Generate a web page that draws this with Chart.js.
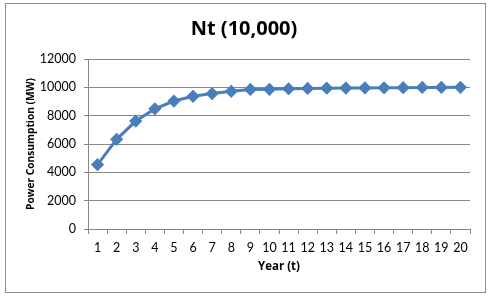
<!DOCTYPE html>
<html>
<head>
<meta charset="utf-8">
<script src="https://cdn.jsdelivr.net/npm/chart.js@4"></script>
<style>
  html, body { margin:0; padding:0; background:#fff; }
  #wrap { position:relative; width:488px; height:298px; }
  #frame { position:absolute; left:5px; top:3px; width:479px; height:288px; border:1px solid #8c8c8c; pointer-events:none; }
</style>
</head>
<body>
<div id="wrap">
  <canvas id="mychart" width="488" height="298"></canvas>
  <div id="frame"></div>
</div>
<script>
const years = ['1','2','3','4','5','6','7','8','9','10','11','12','13','14','15','16','17','18','19','20'];
const power = [4540, 6330, 7620, 8480, 9035, 9365, 9560, 9720, 9850, 9860, 9900, 9920, 9940, 9950, 9960, 9970, 9975, 9990, 9995, 10000];
const chartTitle = 'Nt (10,000)';
const xTitle = 'Year (t)';
const yTitle = 'Power Consumption (MW)';

const fam = 'Lato, "Open Sans", sans-serif';
const boldFam = '"Open Sans", sans-serif';
const lineColor = '#4A7EBB';
const gridColor = '#878787';

const ctx = document.getElementById('mychart').getContext('2d');

const lineChart = new Chart(ctx,
{
    type : 'line',
    data :
    {
        labels : years,
        datasets :
        [{
            data : power,
            borderColor : lineColor,
            backgroundColor : lineColor,
            borderWidth : 3,
            pointStyle : 'rectRot',
            pointRadius : 4.5,
            pointHoverRadius : 4.5,
            tension : 0,
        }]
    },
    options :
    {
        responsive : false,
        animation : false,
        layout :
        {
            padding : { left:18, right:18, top:0, bottom:0 }
        },
        plugins :
        {
            legend : { display:false },
            tooltip : { enabled:false },
            title :
            {
                display : true,
                text : chartTitle,
                color : '#000',
                font : { family:boldFam, size:20, weight:'bold', lineHeight:1.2 },
                padding : { top:17, bottom:18 },
            },
        },
        scales :
        {
            x :
            {
                type : 'category',
                offset : true,
                afterFit : (scale) => { scale.height = 69; },
                grid :
                {
                    offset : true,
                    drawOnChartArea : false,
                    drawTicks : true,
                    tickLength : 5,
                    color : gridColor,
                },
                border : { color:gridColor, width:1 },
                ticks :
                {
                    color : '#000',
                    padding : 6,
                    maxRotation : 0,
                    autoSkip : false,
                    font : { family:fam, size:12.5 },
                },
                title :
                {
                    display : true,
                    text : xTitle,
                    color : '#000',
                    font : { family:boldFam, size:11.5, weight:'bold', lineHeight:1.2 },
                    padding : { top:0, bottom:24 },
                },
            },
            y :
            {
                min : 0,
                max : 12000,
                afterFit : (scale) => { scale.width = 70; },
                grid :
                {
                    color : gridColor,
                    tickLength : 4,
                },
                border : { color:gridColor, width:1 },
                ticks :
                {
                    stepSize : 2000,
                    color : '#000',
                    padding : 8,
                    font : { family:fam, size:12.5 },
                    callback : (v) => String(v),
                },
                title :
                {
                    display : true,
                    text : yTitle,
                    color : '#000',
                    font : { family:boldFam, size:10.2, weight:'bold', lineHeight:1.2 },
                    padding : { top:7, bottom:0 },
                },
            },
        },
    }
});
</script>
</body>
</html>
